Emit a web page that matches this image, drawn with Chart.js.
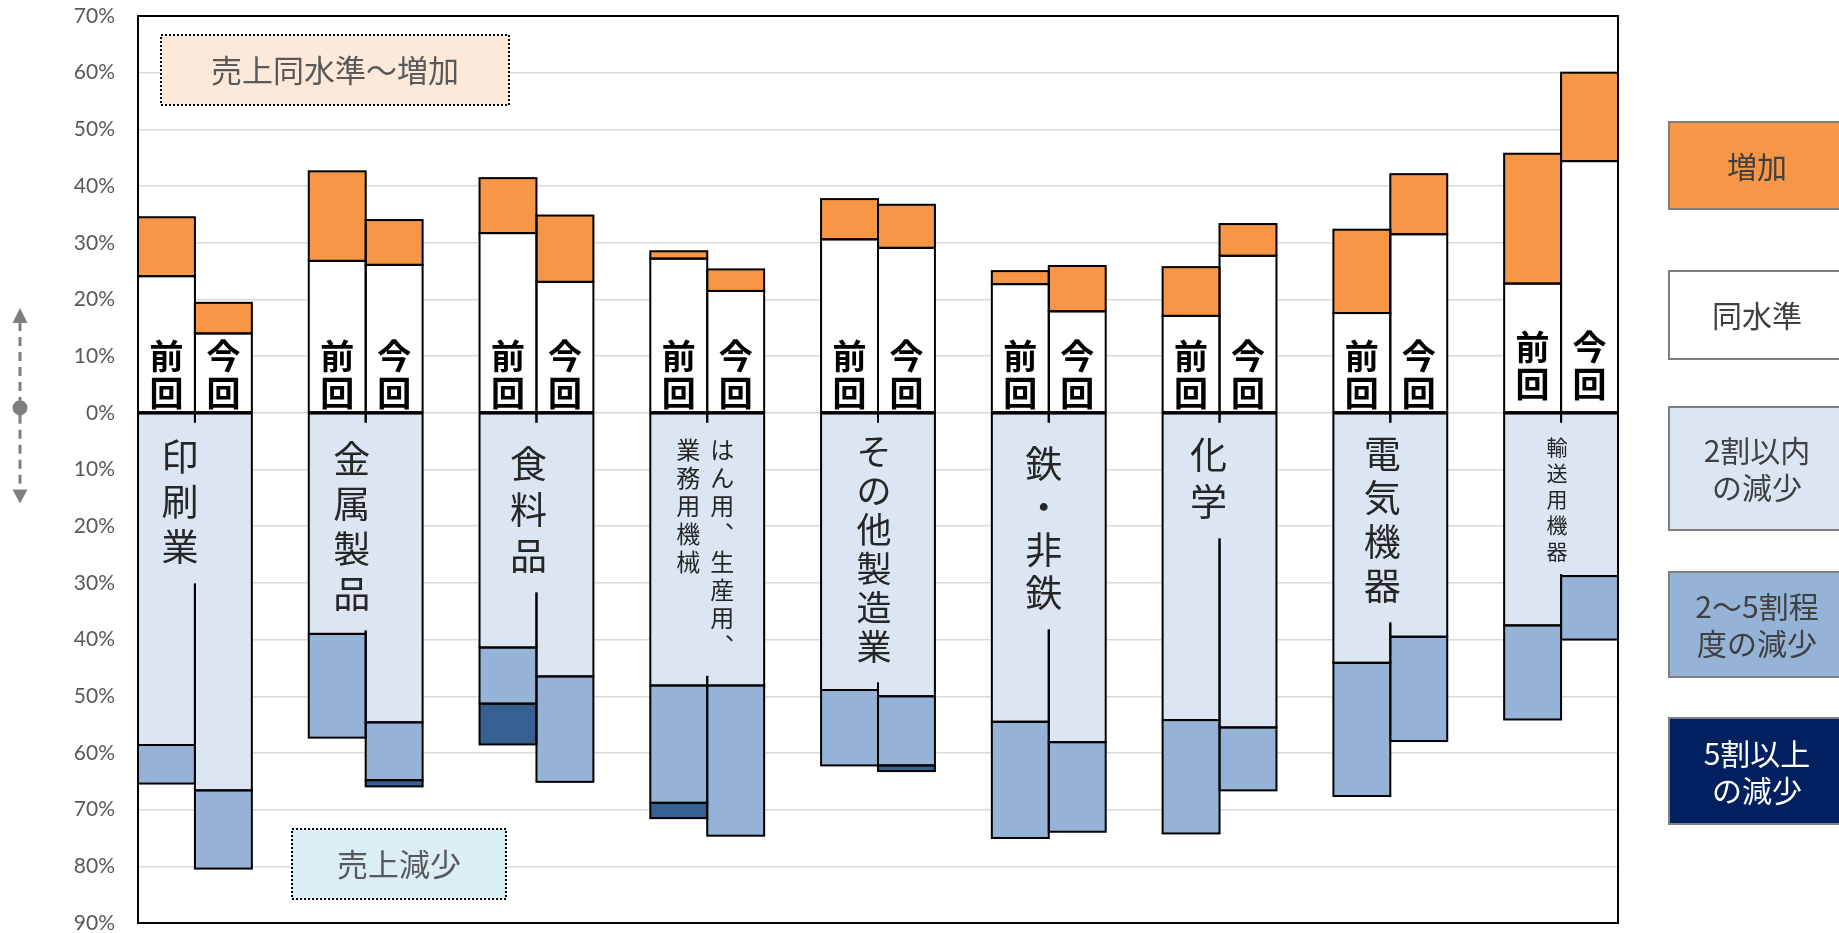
<!DOCTYPE html>
<html lang="ja">
<head>
<meta charset="utf-8">
<title>業種別 売上見通し</title>
<script src="https://cdn.jsdelivr.net/npm/chart.js@4.4.1/dist/chart.umd.min.js"></script>
<style>
  html, body { margin: 0; padding: 0; background: #ffffff; }
  #wrap { width: 1839px; height: 933px; }
</style>
</head>
<body>
<div id="wrap"><canvas id="chart" width="1839" height="933"></canvas></div>
<script>
// ---- data (percent of respondents) ----
const industries = ['印刷業', '金属製品', '食料品', 'はん用、生産用、業務用機械', 'その他製造業', '鉄・非鉄', '化学', '電気機器', '輸送用機器'];
const rounds = ['前回', '今回'];

// 増加
const increasePrev = [10.4, 15.8, 9.7, 1.3, 7.1, 2.3, 8.6, 14.7, 22.9];
const increaseNow  = [5.4, 7.9, 11.7, 3.8, 7.6, 8.0, 5.6, 10.6, 15.6];
// 同水準
const samePrev = [24.1, 26.8, 31.7, 27.2, 30.6, 22.7, 17.1, 17.6, 22.8];
const sameNow  = [14.0, 26.1, 23.1, 21.5, 29.1, 17.9, 27.7, 31.5, 44.4];
// 2割以内の減少
const down20Prev = [58.6, 39.0, 41.4, 48.1, 48.9, 54.5, 54.2, 44.1, 37.5];
const down20Now  = [66.6, 54.6, 46.5, 48.1, 50.0, 58.1, 55.5, 39.5, 28.8];
// 2〜5割程度の減少
const down50Prev = [6.8, 18.3, 9.9, 20.7, 13.3, 20.5, 20.0, 23.5, 16.6];
const down50Now  = [13.8, 10.2, 18.6, 26.5, 12.2, 15.8, 11.1, 18.4, 11.2];
// 5割以上の減少
const downOverPrev = [0, 0, 7.2, 2.7, 0, 0, 0, 0, 0];
const downOverNow  = [0, 1.1, 0, 0, 1.0, 0, 0, 0, 0];

// y axis range / step (percent)
const yMin = -90, yMax = 70, yStep = 10;

// vertical columns of each industry name (right column first)
const labelColumns = [['印刷業'], ['金属製品'], ['食料品'], ['はん用、生産用、', '業務用機械'], ['その他製造業'], ['鉄・非鉄'], ['化学'], ['電気機器'], ['輸送用機器']];

// ---- styles / placement ----
const FONT_JP = '"Noto Sans CJK JP", "Noto Sans CJK SC", sans-serif';
const COLORS = { same: '#FFFFFF', increase: '#F79646', down20: '#DCE6F2', down50: '#95B3D7', downOver: '#366092' };

// name label placement: dx from the divider, dy of first glyph centre below zero line
const labelLayout = [
  { dx: -15, dy: 44, size: 37, pitch: 45 },
  { dx: -14, dy: 46, size: 37, pitch: 45 },
  { dx: -8,  dy: 51, size: 37, pitch: 46 },
  { dx: -2,  dy: 37, size: 24, pitch: 28, colGap: 34 },
  { dx: -4,  dy: 39, size: 35, pitch: 39 },
  { dx: -5,  dy: 51, size: 37, pitch: 43 },
  { dx: -11, dy: 42, size: 37, pitch: 47 },
  { dx: -8,  dy: 41, size: 37, pitch: 44 },
  { dx: -4,  dy: 34, size: 21, pitch: 26 }
];
const roundLift = [0, 0, 0, 0, 0, 0, 0, 0, 9];

const legendItems = [
  { lines: ['増加'], fill: '#F79646', color: '#404040', top: 122, bottom: 209 },
  { lines: ['同水準'], fill: '#FFFFFF', color: '#404040', top: 271, bottom: 359 },
  { lines: ['2割以内', 'の減少'], fill: '#DCE6F2', color: '#404040', top: 407, bottom: 530 },
  { lines: ['2〜5割程', '度の減少'], fill: '#95B3D7', color: '#404040', top: 572, bottom: 677 },
  { lines: ['5割以上', 'の減少'], fill: '#002060', color: '#FFFFFF', top: 718, bottom: 824 }
];

const notes = [
  { text: '売上同水準〜増加', fill: '#FDE9D9', x0: 161, y0: 35, x1: 509, y1: 105 },
  { text: '売上減少', fill: '#DAEEF3', x0: 292, y0: 829, x1: 506, y1: 899 }
];

// ---- build category slots: 前回, 今回, gap ----
const xLabels = [];
industries.forEach((name, g) => {
  xLabels.push(name + ' ' + rounds[0], name + ' ' + rounds[1]);
  if (g < industries.length - 1) xLabels.push('');
});
function slots(prev, now, sign) {
  const out = [];
  industries.forEach((_, g) => {
    out.push(prev[g] ? sign * prev[g] : null, now[g] ? sign * now[g] : null);
    if (g < industries.length - 1) out.push(null);
  });
  return out;
}

const datasets = [
  { label: '同水準', data: slots(samePrev, sameNow, 1), backgroundColor: COLORS.same },
  { label: '増加', data: slots(increasePrev, increaseNow, 1), backgroundColor: COLORS.increase },
  { label: '2割以内の減少', data: slots(down20Prev, down20Now, -1), backgroundColor: COLORS.down20 },
  { label: '2〜5割程度の減少', data: slots(down50Prev, down50Now, -1), backgroundColor: COLORS.down50 },
  { label: '5割以上の減少', data: slots(downOverPrev, downOverNow, -1), backgroundColor: COLORS.downOver }
];

// ---- decorations drawn on top of the bars ----
const decorations = {
  id: 'decorations',
  afterDraw(chart) {
    const ctx = chart.ctx;
    const area = chart.chartArea;
    const yScale = chart.scales.y;
    const zeroY = yScale.getPixelForValue(0);
    ctx.save();

    // bar outlines (centred strokes so shared edges stay one line)
    ctx.strokeStyle = '#000000';
    ctx.lineWidth = 2;
    chart.data.datasets.forEach((ds, i) => {
      const meta = chart.getDatasetMeta(i);
      meta.data.forEach((el, j) => {
        if (!ds.data[j]) return;
        const p = el.getProps(['x', 'y', 'base', 'width'], true);
        ctx.strokeRect(p.x - p.width / 2, Math.min(p.y, p.base), p.width, Math.abs(p.base - p.y));
      });
    });

    const meta0 = chart.getDatasetMeta(0);
    const metaLight = chart.getDatasetMeta(2);
    industries.forEach((name, g) => {
      const prevEl = meta0.data[g * 3].getProps(['x', 'width'], true);
      const nowEl = meta0.data[g * 3 + 1].getProps(['x', 'width'], true);
      const lightBottom = Math.min(
        metaLight.data[g * 3].getProps(['y'], true).y,
        metaLight.data[g * 3 + 1].getProps(['y'], true).y
      );
      const divider = prevEl.x + prevEl.width / 2;
      const L = labelLayout[g];
      const cols = labelColumns[g];
      const cx = divider + L.dx;
      const start = zeroY + L.dy;
      const maxLen = Math.max(...cols.map(c => [...c].length));
      const boxTop = zeroY + 10;
      const boxBottom = Math.min(start + (maxLen - 1) * L.pitch + L.size / 2 + 18, lightBottom - 2);

      // panel behind the industry name
      ctx.fillStyle = COLORS.down20;
      ctx.fillRect(cx - 34, boxTop, 68, boxBottom - boxTop);

      // industry name, written vertically
      ctx.fillStyle = '#262626';
      ctx.font = L.size + 'px ' + FONT_JP;
      ctx.textAlign = 'center';
      ctx.textBaseline = 'middle';
      cols.forEach((col, k) => {
        const colX = cols.length > 1 ? cx + L.colGap / 2 - k * L.colGap : cx;
        [...col].forEach((ch, i) => {
          ctx.fillText(ch === '、' ? '︑' : ch, colX, start + i * L.pitch);
        });
      });

      // 前回 / 今回 labels
      ctx.fillStyle = '#000000';
      ctx.font = 'bold 34px ' + FONT_JP;
      [prevEl, nowEl].forEach((el, r) => {
        const chars = [...rounds[r]];
        const lift = roundLift[g];
        ctx.fillText(chars[0], el.x, zeroY - 57 - lift);
        ctx.fillText(chars[1], el.x, zeroY - 20 - lift);
      });
    });

    // plot frame
    ctx.strokeStyle = '#000000';
    ctx.lineWidth = 2;
    ctx.strokeRect(area.left, area.top, area.right - area.left, area.bottom - area.top);

    // note boxes
    notes.forEach(n => {
      ctx.fillStyle = n.fill;
      ctx.fillRect(n.x0, n.y0, n.x1 - n.x0, n.y1 - n.y0);
      ctx.setLineDash([2, 2]);
      ctx.strokeStyle = '#000000';
      ctx.lineWidth = 2;
      ctx.strokeRect(n.x0, n.y0, n.x1 - n.x0, n.y1 - n.y0);
      ctx.setLineDash([]);
      ctx.fillStyle = '#595959';
      ctx.font = '31px ' + FONT_JP;
      ctx.textAlign = 'center';
      ctx.textBaseline = 'middle';
      ctx.fillText(n.text, (n.x0 + n.x1) / 2, (n.y0 + n.y1) / 2);
    });

    // legend panel
    const lx0 = area.right + 51, lx1 = lx0 + 176;
    legendItems.forEach(item => {
      ctx.fillStyle = item.fill;
      ctx.fillRect(lx0, item.top, lx1 - lx0, item.bottom - item.top);
      ctx.strokeStyle = '#7F7F7F';
      ctx.lineWidth = 2;
      ctx.strokeRect(lx0, item.top, lx1 - lx0, item.bottom - item.top);
      ctx.fillStyle = item.color;
      ctx.font = '30px ' + FONT_JP;
      ctx.textAlign = 'center';
      ctx.textBaseline = 'middle';
      const mid = (item.top + item.bottom) / 2 + 1;
      const lh = 37;
      item.lines.forEach((t, i) => {
        ctx.fillText(t, (lx0 + lx1) / 2, mid + (i - (item.lines.length - 1) / 2) * lh);
      });
    });

    // up/down direction marker beside the axis
    const ax = 20;
    const topTip = yScale.getPixelForValue(18.5), botTip = yScale.getPixelForValue(-16.0);
    ctx.strokeStyle = '#7F7F7F';
    ctx.fillStyle = '#7F7F7F';
    ctx.lineWidth = 3;
    ctx.setLineDash([9, 6]);
    ctx.beginPath();
    ctx.moveTo(ax, topTip + 14); ctx.lineTo(ax, zeroY - 12);
    ctx.moveTo(ax, zeroY + 2); ctx.lineTo(ax, botTip - 14);
    ctx.stroke();
    ctx.setLineDash([]);
    ctx.beginPath(); ctx.arc(ax, zeroY - 5, 7.5, 0, Math.PI * 2); ctx.fill();
    ctx.beginPath(); ctx.moveTo(ax, topTip); ctx.lineTo(ax - 7.5, topTip + 15); ctx.lineTo(ax + 7.5, topTip + 15); ctx.closePath(); ctx.fill();
    ctx.beginPath(); ctx.moveTo(ax, botTip); ctx.lineTo(ax - 7.5, botTip - 14); ctx.lineTo(ax + 7.5, botTip - 14); ctx.closePath(); ctx.fill();

    ctx.restore();
  }
};

function build() {
  new Chart(document.getElementById('chart').getContext('2d'), {
    type: 'bar',
    data: { labels: xLabels, datasets: datasets },
    options: {
      responsive: false,
      animation: false,
      devicePixelRatio: 1,
      layout: { padding: { left: 0, right: 221, top: 16, bottom: 10 } },
      plugins: { legend: { display: false }, tooltip: { enabled: false } },
      datasets: { bar: { barPercentage: 1, categoryPercentage: 1, borderWidth: 0 } },
      scales: {
        x: { type: 'category', stacked: true, display: false, offset: true, grid: { display: false } },
        y: {
          stacked: true,
          min: yMin,
          max: yMax,
          afterFit(scale) { scale.width = 138; },
          border: { display: false },
          grid: { color: '#D9D9D9', lineWidth: 1.5, drawTicks: true, tickLength: 23, tickColor: 'rgba(0,0,0,0)' },
          ticks: {
            stepSize: yStep,
            padding: 0,
            color: '#595959',
            font: { family: 'Lato', size: 21, lineHeight: 0.9 },
            callback: v => Math.abs(v) + '%'
          }
        }
      }
    },
    plugins: [decorations]
  });
}

const fontLoads = [
  document.fonts.load('21px Lato'),
  document.fonts.load('30px "Noto Sans CJK JP"', '増加'),
  document.fonts.load('bold 34px "Noto Sans CJK JP"', '前回')
];
Promise.all(fontLoads).then(build, build);
</script>
</body>
</html>
